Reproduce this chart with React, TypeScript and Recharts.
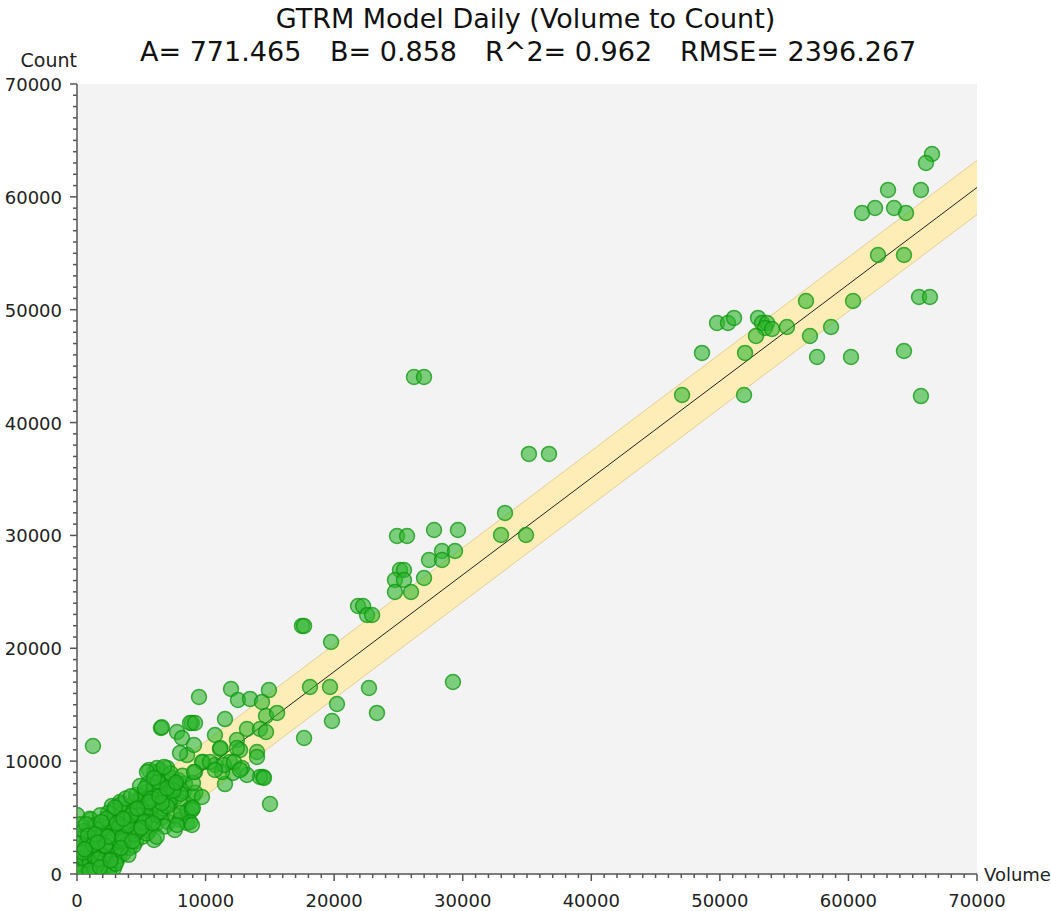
import { ComposedChart, Scatter, Line, Area, XAxis, YAxis, CartesianGrid } from "recharts";

// regression results shown in the title
const A = 771.465;
const B = 0.858;
const R2 = 0.962;
const RMSE = 2396.267;

const minorTicks = Array.from({ length: 71 }, (_, i) => i * 1000);

// [volume, count] – upper right
const upperPoints = [
  [66500, 63800], [66030, 63000], [63080, 60610], [65640, 60610], [61060, 58570],
  [62070, 59010], [63550, 59010], [64480, 58570], [62300, 54850], [64320, 54850],
  [56700, 50770], [60360, 50770], [65490, 51130], [66340, 51130], [49780, 48820],
  [50630, 48820], [51100, 49270], [52970, 49270], [53280, 48820], [53670, 48820],
  [53510, 48380], [54060, 48290], [55220, 48470], [52810, 47670], [57010, 47670],
  [58650, 48470], [48610, 46170], [51960, 46170], [57560, 45810], [60200, 45810],
  [64320, 46340], [47060, 42440], [51880, 42440], [65640, 42350],
];

// middle range
const midPoints = [
  [26210, 44040], [26990, 44040], [35150, 37220], [36710, 37220], [33290, 31990],
  [32980, 30040], [34920, 30040], [24890, 29950], [25670, 29950], [27770, 30480],
  [29630, 30480], [28390, 28620], [29400, 28620], [27380, 27820], [28390, 27820],
  [25120, 26940], [25430, 26940], [24730, 26050], [25430, 26050], [26990, 26230],
  [24730, 24990], [25980, 24990], [21860, 23750], [22250, 23750], [22560, 22950],
  [22950, 22950], [17500, 21980], [17660, 21980], [19760, 20560], [29240, 17010],
  [14930, 16300], [18120, 16570], [19680, 16570], [22710, 16480], [11980, 16390],
  [9490, 15680], [12520, 15420], [13460, 15510], [14390, 15240], [20220, 15060],
  [23330, 14270], [19830, 13560], [17660, 12050], [11510, 13730], [14700, 14000],
  [15560, 14270], [13220, 12850], [14230, 12850], [14700, 12580], [10730, 12320],
  [12440, 11870], [8940, 13380], [11120, 11080], [12680, 10990], [14000, 10810],
  [14000, 10370], [14470, 8600], [14230, 8600], [15010, 6200], [11510, 7970],
  [13220, 8770], [12130, 8950], [10730, 9660], [11900, 9920], [12830, 9390],
  [11280, 9040], [9180, 9040], [9800, 9920], [9720, 6820], [9020, 8060],
  [1240, 11340], [6530, 12940], [6600, 13000], [7780, 12580], [8790, 13380],
  [9180, 13380], [8170, 12050], [8560, 10540], [9100, 11430], [5600, 9220],
  [6220, 9390], [6770, 9480], [8010, 10720], [9720, 9920], [11160, 11160],
  [12440, 11160], [11430, 9660], [12210, 9920], [12680, 9220], [10340, 9920],
  [14540, 8510], [10730, 9220], [8940, 5670], [8790, 4610], [7780, 4340],
  [9020, 5850], [8940, 4340], [5440, 9040], [5990, 8510], [9100, 9040],
];

// dense cluster near the origin
const clusterPoints = [
  [100, 200], [300, 900], [200, 1600], [400, 2400], [150, 3100], [500, 500],
  [600, 1300], [700, 2000], [800, 2900], [650, 3600], [900, 300], [1000, 1100],
  [1100, 1800], [950, 2600], [1200, 3300], [1050, 4100], [1100, 4800], [1000, 4900],
  [0, 5230], [250, 4400], [1300, 600], [1400, 1500], [1500, 2300], [1350, 3000],
  [1600, 3700], [1700, 900], [1800, 1900], [1900, 2700], [1750, 3400], [2000, 4200],
  [2100, 200], [2200, 1300], [2300, 2100], [2150, 3000], [2400, 3800], [2500, 4600],
  [2600, 700], [2700, 1600], [2800, 2500], [2650, 3300], [2900, 4000], [3000, 5000],
  [2720, 6030], [3340, 6380], [2880, 530], [3100, 1200], [3200, 2100], [3300, 2900],
  [3150, 3700], [3400, 4500], [3500, 5400], [2850, 5600], [3600, 1800], [3700, 2600],
  [3800, 3400], [3650, 4200], [3900, 5000], [4000, 5900], [3450, 6200], [4100, 2300],
  [4200, 3200], [4300, 4000], [4150, 4800], [4400, 5600], [4500, 6400], [4600, 2900],
  [4700, 3700], [4800, 4500], [4650, 5300], [4900, 6100], [5000, 6900], [5100, 3300],
  [5200, 4200], [5300, 5000], [5150, 5800], [5400, 6600], [5210, 7180], [5500, 7300],
  [5600, 3800], [5700, 4700], [5800, 5500], [5650, 6300], [5900, 7100], [5990, 3010],
  [6000, 9000], [6100, 4400], [6200, 5200], [6300, 6000], [6150, 6800], [6400, 7600],
  [6220, 8600], [6500, 9200], [6600, 5000], [6700, 5800], [6800, 6600], [6650, 7400],
  [6900, 8100], [7000, 9400], [7100, 4600], [7200, 6200], [7300, 7000], [7150, 7800],
  [7400, 8500], [7600, 5200], [7700, 6800], [7800, 7500], [7900, 8300], [8000, 4800],
  [8200, 6300], [8300, 7300], [8400, 8000], [8560, 4520], [8600, 5600], [8900, 5900],
  [9000, 6900], [9200, 7200], [2400, 5400], [1500, 4400], [3800, 6700], [4600, 7000],
  [5500, 8000], [7300, 8900], [6800, 4200], [7600, 3900], [500, 3800], [1800, 5200],
  [3300, 1600], [4400, 2500], [5400, 3600], [6200, 3300], [1300, 200], [2500, 100],
  [300, 100], [700, 4400], [2300, 4900], [4900, 7800], [6000, 7700], [7200, 7300],
  [8200, 8700], [4000, 1700], [3000, 900],
  [200, 2700], [450, 1900], [850, 3400], [1250, 2600], [1650, 1300], [2050, 3500],
  [2450, 2800], [2850, 3200], [3250, 4100], [3650, 3000], [4050, 4400], [4450, 3500],
  [4850, 5200], [5250, 4600], [5650, 5900], [6050, 6200], [6450, 5500], [6850, 7000],
  [7250, 6600], [7650, 7900], [8050, 7100], [1900, 4600], [2950, 5900], [4200, 6900],
  [5300, 7600], [6300, 8200], [3500, 3200], [4800, 3900], [2200, 2500], [1400, 3500],
  [600, 2200], [3900, 4300], [5800, 6700], [7000, 6000], [7500, 7400], [8100, 5400],
  [1000, 300], [1800, 600], [2600, 1200], [3400, 2300], [4300, 2900], [5000, 4100],
  [5900, 4500], [6600, 6300], [4200, 5200], [3100, 4500], [2400, 3300], [1600, 2800],
  [5600, 6400], [6400, 6900], [7000, 7600], [7700, 8100], [4700, 5800], [3600, 4900],
];

const toPoints = (rows: number[][]) => rows.map(([x, y]) => ({ x, y }));
const scatterData = [...toPoints(clusterPoints), ...toPoints(midPoints), ...toPoints(upperPoints)];

const bandX = [0, 70000];
const bandData = bandX.map((x) => ({
  x,
  fit: A + B * x,
  range: [A + B * x - RMSE, A + B * x + RMSE],
}));

const AXIS = "#555";
const FONT = "'DejaVu Sans', Verdana, sans-serif";

const XTick = (props: any) => {
  const { x, payload } = props;
  const major = payload.value % 10000 === 0;
  return (
    <g>
      <line x1={x} x2={x} y1={874} y2={874 + (major ? 7 : 4)} stroke={AXIS} strokeWidth={1.5} />
      {major && (
        <text x={x} y={907} textAnchor="middle" fontSize={18} fontFamily={FONT} fill="#222">
          {payload.value}
        </text>
      )}
    </g>
  );
};

const YTick = (props: any) => {
  const { y, payload } = props;
  const major = payload.value % 10000 === 0;
  return (
    <g>
      <line x1={77} x2={77 - (major ? 7 : 4)} y1={y} y2={y} stroke={AXIS} strokeWidth={1.5} />
      {major && (
        <text x={62} y={y + 7} textAnchor="end" fontSize={18} fontFamily={FONT} fill="#222">
          {payload.value}
        </text>
      )}
    </g>
  );
};

const Dot = (props: any) => (
  <circle cx={props.cx} cy={props.cy} r={7.5} fill="#2db52d" fillOpacity={0.6} stroke="#0c960c" strokeOpacity={0.75} strokeWidth={1.5} />
);

export default function App() {
  return (
    <div style={{ position: "absolute", left: 0, top: 0, width: 1051, height: 911, background: "#fff", fontFamily: FONT }}>
      <div style={{ position: "absolute", left: 0, width: 1051, top: 3, textAlign: "center", fontSize: 27, color: "#111" }}>
        GTRM Model Daily (Volume to Count)
      </div>
      <div style={{ position: "absolute", top: 36, left: 0, width: 1051, height: 40, fontSize: 27, color: "#111" }}>
        <span style={{ position: "absolute", left: 140 }}>A= {A}</span>
        <span style={{ position: "absolute", left: 330 }}>B= {B}</span>
        <span style={{ position: "absolute", left: 485 }}>R^2= {R2}</span>
        <span style={{ position: "absolute", left: 680 }}>RMSE= {RMSE}</span>
      </div>
      <div style={{ position: "absolute", top: 49, left: 0, width: 77, textAlign: "right", fontSize: 19, color: "#222" }}>Count</div>
      <div style={{ position: "absolute", top: 864, left: 984, fontSize: 18, color: "#222", whiteSpace: "nowrap" }}>Volume</div>
      <div style={{ position: "absolute", left: 0, top: 0 }}>
        <ComposedChart width={1051} height={911} margin={{ top: 84, right: 74, bottom: 0, left: 0 }}>
          <CartesianGrid horizontal={false} vertical={false} fill="#f3f3f3" />
          <XAxis
            type="number"
            dataKey="x"
            domain={[0, 70000]}
            ticks={minorTicks}
            interval={0}
            allowDataOverflow
            height={37}
            tickSize={0}
            tickMargin={0}
            tickLine={false}
            axisLine={{ stroke: AXIS, strokeWidth: 1.5 }}
            tick={<XTick />}
          />
          <YAxis
            type="number"
            dataKey="y"
            domain={[0, 70000]}
            ticks={minorTicks}
            interval={0}
            allowDataOverflow
            width={77}
            tickSize={0}
            tickMargin={0}
            tickLine={false}
            axisLine={{ stroke: AXIS, strokeWidth: 1.5 }}
            tick={<YTick />}
          />
          <Area
            data={bandData}
            dataKey="range"
            type="linear"
            fill="#ffedb8"
            fillOpacity={1}
            stroke="#e2cf90"
            strokeWidth={1}
            isAnimationActive={false}
          />
          <Line data={bandData} dataKey="fit" type="linear" stroke="#222" strokeWidth={1} dot={false} isAnimationActive={false} />
          <Scatter data={scatterData} shape={<Dot />} isAnimationActive={false} />
        </ComposedChart>
      </div>
    </div>
  );
}
